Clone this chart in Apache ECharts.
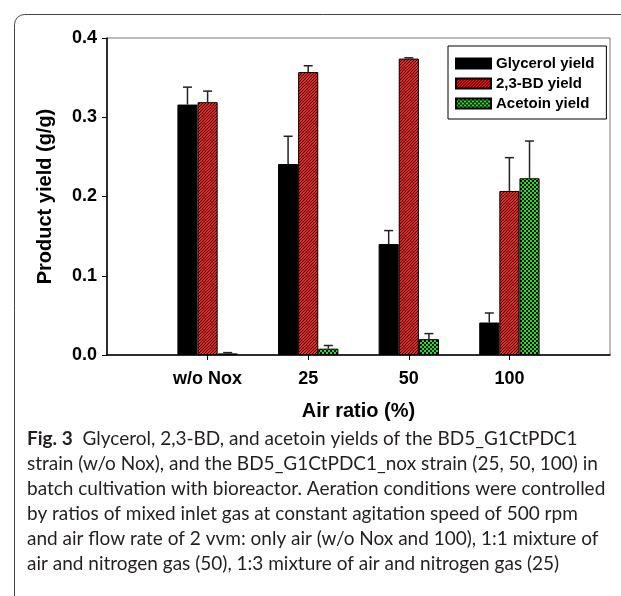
<!DOCTYPE html>
<html>
<head>
    <meta charset="utf-8">
    <title>Fig. 3</title>
    <script src="https://cdn.jsdelivr.net/npm/echarts@6/dist/echarts.min.js"></script>
    <style>
        html, body { margin: 0; padding: 0; background: #fff; }
        #main { width: 621px; height: 596px; }
    </style>
</head>
<body>
<div id="main"></div>
<script type="text/javascript">
    // 数据
    var categories = ['w/o Nox', '25', '50', '100'];
    var glycerol = [0.316, 0.241, 0.140, 0.041];
    var glycerolErr = [0.022, 0.035, 0.017, 0.012];
    var bd = [0.319, 0.357, 0.374, 0.207];
    var bdErr = [0.014, 0.008, 0.001, 0.042];
    var acetoin = [0.002, 0.008, 0.020, 0.223];
    var acetoinErr = [0.001, 0.004, 0.007, 0.047];
    var yTicks = [0, 0.1, 0.2, 0.3, 0.4];
    var captionLines = [
        'Glycerol, 2,3-BD, and acetoin yields of the BD5_G1CtPDC1',
        'strain (w/o Nox), and the BD5_G1CtPDC1_nox strain (25, 50, 100) in',
        'batch cultivation with bioreactor. Aeration conditions were controlled',
        'by ratios of mixed inlet gas at constant agitation speed of 500 rpm',
        'and air flow rate of 2 vvm: only air (w/o Nox and 100), 1:1 mixture of',
        'air and nitrogen gas (50), 1:3 mixture of air and nitrogen gas (25)'
    ];

    // 两端留空的类目
    var xData = [''].concat(categories).concat([' ']);
    function pad(arr) { return ['-'].concat(arr).concat(['-']); }

    // 填充图案
    function makePattern(bg, kind) {
        var c = document.createElement('canvas');
        var n = kind === 'hatch' ? 3 : 4;
        c.width = n; c.height = n;
        var ctx = c.getContext('2d');
        ctx.fillStyle = bg;
        ctx.fillRect(0, 0, n, n);
        ctx.fillStyle = '#000';
        if (kind === 'hatch') {
            for (var i = 0; i < n; i++) ctx.fillRect(i, n - 1 - i, 1, 1);
        } else {
            ctx.fillRect(0, 0, 2, 2);
            ctx.fillRect(2, 2, 2, 2);
        }
        return { image: c, repeat: 'repeat' };
    }
    var redFill = makePattern('#ff1a1a', 'hatch');
    var greenFill = makePattern('#19e619', 'check');

    function errData(vals, errs) {
        var out = [];
        for (var i = 0; i < vals.length; i++) out.push([i + 1, vals[i], errs[i]]);
        return out;
    }
    function errSeries(vals, errs, k) {
        return {
            type: 'custom',
            data: errData(vals, errs),
            encode: { x: 0, y: 1 },
            z: 5,
            silent: true,
            renderItem: function (params, api) {
                var bandW = api.size([1, 0])[0];
                var barW = bandW * 0.6 / 3;
                var base = api.coord([api.value(0), api.value(1)]);
                var top = api.coord([api.value(0), api.value(1) + api.value(2)]);
                var x = base[0] + (k - 1) * barW;
                var cap = 4.5;
                var st = { stroke: '#222', lineWidth: 1.5, fill: null };
                return {
                    type: 'group',
                    children: [
                        { type: 'line', shape: { x1: x, y1: base[1], x2: x, y2: top[1] }, style: st },
                        { type: 'line', shape: { x1: x - cap, y1: top[1], x2: x + cap, y2: top[1] }, style: st }
                    ]
                };
            }
        };
    }

    var bold = 'Liberation Sans';
    var graphics = [
        {
            type: 'rect', left: 12, top: 12, silent: true,
            shape: { x: 0, y: 0, width: 700, height: 700, r: 10 },
            style: { fill: null, stroke: '#444', lineWidth: 1 }
        }
    ];
    for (var i = 0; i < captionLines.length; i++) {
        graphics.push({
            type: 'text', left: 27, top: 429 + i * 25, silent: true,
            style: {
                text: (i === 0 ? '{b|Fig. 3}  ' : '') + captionLines[i],
                font: '19px Lato',
                fill: '#231f20',
                rich: { b: { fontFamily: 'Lato', fontWeight: 'bold', fontSize: 19, fill: '#231f20' } }
            }
        });
    }

    var myChart = echarts.init(document.getElementById('main'));
    var option = {
        animation: false,
        grid: {
            left: 107, top: 38, right: 11, bottom: 241,
            show: true, borderColor: '#777', borderWidth: 1
        },
        legend: {
            orient: 'vertical',
            left: 448, top: 46,
            padding: [10, 12, 8, 7],
            itemGap: 5,
            itemWidth: 35, itemHeight: 10,
            icon: 'rect',
            borderColor: '#000', borderWidth: 1,
            backgroundColor: '#fff',
            textStyle: { fontFamily: bold, fontWeight: 'bold', fontSize: 15, color: '#000' },
            data: ['Glycerol yield', '2,3-BD yield', 'Acetoin yield']
        },
        xAxis: {
            type: 'category',
            data: xData,
            boundaryGap: false,
            name: 'Air ratio (%)',
            nameLocation: 'middle',
            nameGap: 46,
            nameTextStyle: { fontFamily: bold, fontWeight: 'bold', fontSize: 20, color: '#000' },
            axisLine: { lineStyle: { color: '#000', width: 1.5 } },
            axisTick: {
                length: 5, lineStyle: { color: '#000' },
                interval: function (idx, val) { return val.trim() !== ''; }
            },
            axisLabel: {
                interval: 0, margin: 15,
                fontFamily: bold, fontWeight: 'bold', fontSize: 18, color: '#000'
            },
            splitLine: { show: false }
        },
        yAxis: {
            type: 'value',
            min: yTicks[0], max: yTicks[yTicks.length - 1], interval: 0.1,
            name: 'Product yield (g/g)',
            nameLocation: 'middle',
            nameGap: 52,
            nameTextStyle: { fontFamily: bold, fontWeight: 'bold', fontSize: 20, color: '#000' },
            axisLine: { show: true, lineStyle: { color: '#000', width: 1.5 } },
            axisTick: { show: true, length: 5, lineStyle: { color: '#000' } },
            axisLabel: {
                margin: 10,
                fontFamily: bold, fontWeight: 'bold', fontSize: 18, color: '#000',
                formatter: function (v) { return v.toFixed(1); }
            },
            splitLine: { show: false }
        },
        series: [
            {
                name: 'Glycerol yield', type: 'bar', data: pad(glycerol),
                barGap: 0, barCategoryGap: '40%',
                itemStyle: { color: '#000', borderColor: '#000', borderWidth: 1 }
            },
            {
                name: '2,3-BD yield', type: 'bar', data: pad(bd),
                barGap: 0, barCategoryGap: '40%',
                itemStyle: { color: redFill, borderColor: '#000', borderWidth: 1 }
            },
            {
                name: 'Acetoin yield', type: 'bar', data: pad(acetoin),
                barGap: 0, barCategoryGap: '40%',
                itemStyle: { color: greenFill, borderColor: '#000', borderWidth: 1 }
            },
            errSeries(glycerol, glycerolErr, 0),
            errSeries(bd, bdErr, 1),
            errSeries(acetoin, acetoinErr, 2)
        ],
        graphic: graphics
    };
    myChart.setOption(option);
</script>
</body>
</html>
